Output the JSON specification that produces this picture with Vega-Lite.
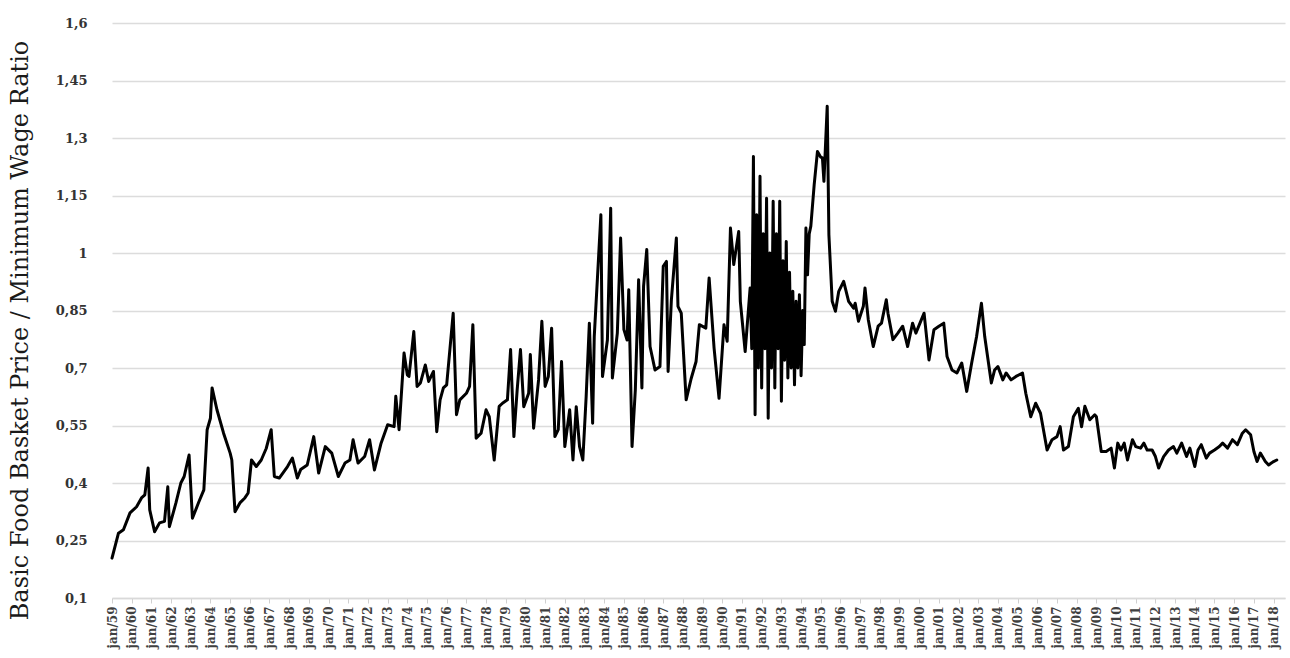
{
  "$schema": "https://vega.github.io/schema/vega-lite/v6.json",
  "width": 1173,
  "height": 575,
  "autosize": {"type": "none"},
  "padding": {"left": 112, "top": 23, "right": 5, "bottom": 60},
  "background": "white",
  "config": {"view": {"stroke": null}},
  "data": {"values": [
    {"date":"1959-01-01","ratio":0.204},{"date":"1959-05-01","ratio":0.269},{"date":"1959-08-01","ratio":0.278},{"date":"1959-12-01","ratio":0.322},
    {"date":"1960-04-01","ratio":0.338},{"date":"1960-07-01","ratio":0.361},{"date":"1960-09-01","ratio":0.369},{"date":"1960-11-01","ratio":0.439},{"date":"1960-12-01","ratio":0.33},
    {"date":"1961-03-01","ratio":0.273},{"date":"1961-06-01","ratio":0.296},{"date":"1961-09-01","ratio":0.30},{"date":"1961-11-01","ratio":0.39},{"date":"1961-12-01","ratio":0.286},
    {"date":"1962-04-01","ratio":0.348},{"date":"1962-07-01","ratio":0.40},{"date":"1962-09-01","ratio":0.417},{"date":"1962-12-01","ratio":0.473},
    {"date":"1963-02-01","ratio":0.308},{"date":"1963-06-01","ratio":0.351},{"date":"1963-09-01","ratio":0.382},{"date":"1963-11-01","ratio":0.539},
    {"date":"1964-01-01","ratio":0.569},{"date":"1964-02-01","ratio":0.648},{"date":"1964-05-01","ratio":0.591},{"date":"1964-09-01","ratio":0.530},
    {"date":"1965-01-01","ratio":0.478},{"date":"1965-02-01","ratio":0.46},{"date":"1965-04-01","ratio":0.325},{"date":"1965-07-01","ratio":0.348},{"date":"1965-10-01","ratio":0.361},{"date":"1965-12-01","ratio":0.374},
    {"date":"1966-02-01","ratio":0.46},{"date":"1966-05-01","ratio":0.443},{"date":"1966-08-01","ratio":0.46},{"date":"1966-11-01","ratio":0.49},
    {"date":"1967-02-01","ratio":0.539},{"date":"1967-04-01","ratio":0.417},{"date":"1967-07-01","ratio":0.413},{"date":"1967-12-01","ratio":0.443},
    {"date":"1968-03-01","ratio":0.465},{"date":"1968-06-01","ratio":0.413},{"date":"1968-08-01","ratio":0.435},{"date":"1968-12-01","ratio":0.447},
    {"date":"1969-04-01","ratio":0.521},{"date":"1969-07-01","ratio":0.426},{"date":"1969-11-01","ratio":0.495},
    {"date":"1970-03-01","ratio":0.478},{"date":"1970-07-01","ratio":0.417},{"date":"1970-11-01","ratio":0.452},
    {"date":"1971-02-01","ratio":0.46},{"date":"1971-04-01","ratio":0.513},{"date":"1971-07-01","ratio":0.452},{"date":"1971-11-01","ratio":0.469},
    {"date":"1972-02-01","ratio":0.513},{"date":"1972-05-01","ratio":0.434},{"date":"1972-09-01","ratio":0.504},
    {"date":"1973-01-01","ratio":0.552},{"date":"1973-05-01","ratio":0.547},{"date":"1973-06-01","ratio":0.626},{"date":"1973-08-01","ratio":0.539},{"date":"1973-11-01","ratio":0.739},
    {"date":"1974-01-01","ratio":0.682},{"date":"1974-02-01","ratio":0.678},{"date":"1974-05-01","ratio":0.795},{"date":"1974-07-01","ratio":0.652},{"date":"1974-09-01","ratio":0.661},{"date":"1974-12-01","ratio":0.708},
    {"date":"1975-02-01","ratio":0.665},{"date":"1975-05-01","ratio":0.691},{"date":"1975-07-01","ratio":0.534},{"date":"1975-09-01","ratio":0.617},{"date":"1975-11-01","ratio":0.648},
    {"date":"1976-01-01","ratio":0.656},{"date":"1976-05-01","ratio":0.843},{"date":"1976-07-01","ratio":0.578},{"date":"1976-09-01","ratio":0.617},
    {"date":"1977-01-01","ratio":0.634},{"date":"1977-03-01","ratio":0.652},{"date":"1977-05-01","ratio":0.813},{"date":"1977-07-01","ratio":0.517},{"date":"1977-10-01","ratio":0.530},
    {"date":"1978-01-01","ratio":0.591},{"date":"1978-03-01","ratio":0.573},{"date":"1978-06-01","ratio":0.46},{"date":"1978-09-01","ratio":0.60},{"date":"1978-11-01","ratio":0.608},
    {"date":"1979-02-01","ratio":0.617},{"date":"1979-04-01","ratio":0.748},{"date":"1979-06-01","ratio":0.521},{"date":"1979-08-01","ratio":0.643},{"date":"1979-10-01","ratio":0.748},{"date":"1979-12-01","ratio":0.599},
    {"date":"1980-03-01","ratio":0.634},{"date":"1980-04-01","ratio":0.735},{"date":"1980-06-01","ratio":0.543},{"date":"1980-09-01","ratio":0.669},{"date":"1980-11-01","ratio":0.822},
    {"date":"1981-01-01","ratio":0.652},{"date":"1981-03-01","ratio":0.678},{"date":"1981-05-01","ratio":0.804},{"date":"1981-07-01","ratio":0.521},{"date":"1981-09-01","ratio":0.539},{"date":"1981-11-01","ratio":0.717},
    {"date":"1982-01-01","ratio":0.495},{"date":"1982-04-01","ratio":0.591},{"date":"1982-06-01","ratio":0.46},{"date":"1982-08-01","ratio":0.599},{"date":"1982-10-01","ratio":0.495},{"date":"1982-12-01","ratio":0.46},
    {"date":"1983-02-01","ratio":0.626},{"date":"1983-04-01","ratio":0.817},{"date":"1983-06-01","ratio":0.556},{"date":"1983-07-01","ratio":0.782},{"date":"1983-11-01","ratio":1.10},{"date":"1983-12-01","ratio":0.678},
    {"date":"1984-03-01","ratio":0.773},{"date":"1984-05-01","ratio":1.117},{"date":"1984-06-01","ratio":0.674},{"date":"1984-09-01","ratio":0.791},{"date":"1984-11-01","ratio":1.039},
    {"date":"1985-01-01","ratio":0.80},{"date":"1985-03-01","ratio":0.773},{"date":"1985-04-01","ratio":0.904},{"date":"1985-06-01","ratio":0.495},{"date":"1985-08-01","ratio":0.643},{"date":"1985-10-01","ratio":0.93},{"date":"1985-12-01","ratio":0.648},
    {"date":"1986-01-01","ratio":0.913},{"date":"1986-03-01","ratio":1.009},{"date":"1986-05-01","ratio":0.756},{"date":"1986-08-01","ratio":0.695},{"date":"1986-11-01","ratio":0.704},
    {"date":"1987-01-01","ratio":0.965},{"date":"1987-03-01","ratio":0.978},{"date":"1987-04-01","ratio":0.691},{"date":"1987-06-01","ratio":0.878},{"date":"1987-09-01","ratio":1.039},{"date":"1987-10-01","ratio":0.861},{"date":"1987-12-01","ratio":0.843},
    {"date":"1988-03-01","ratio":0.617},{"date":"1988-06-01","ratio":0.672},{"date":"1988-09-01","ratio":0.717},{"date":"1988-11-01","ratio":0.813},
    {"date":"1989-03-01","ratio":0.804},{"date":"1989-05-01","ratio":0.935},{"date":"1989-08-01","ratio":0.752},{"date":"1989-11-01","ratio":0.621},
    {"date":"1990-02-01","ratio":0.813},{"date":"1990-04-01","ratio":0.770},{"date":"1990-06-01","ratio":1.065},{"date":"1990-08-01","ratio":0.97},{"date":"1990-11-01","ratio":1.056},{"date":"1990-12-01","ratio":0.874},
    {"date":"1991-03-01","ratio":0.743},{"date":"1991-06-01","ratio":0.909},{"date":"1991-07-01","ratio":0.75},{"date":"1991-08-01","ratio":1.252},{"date":"1991-09-01","ratio":0.578},{"date":"1991-10-01","ratio":1.10},{"date":"1991-11-01","ratio":0.70},{"date":"1991-12-01","ratio":1.20},
    {"date":"1992-01-01","ratio":0.648},{"date":"1992-02-01","ratio":1.05},{"date":"1992-03-01","ratio":0.75},{"date":"1992-04-01","ratio":1.143},{"date":"1992-05-01","ratio":0.569},{"date":"1992-06-01","ratio":1.00},{"date":"1992-07-01","ratio":0.70},{"date":"1992-08-01","ratio":1.135},{"date":"1992-09-01","ratio":0.648},{"date":"1992-10-01","ratio":1.05},{"date":"1992-11-01","ratio":0.75},{"date":"1992-12-01","ratio":1.135},
    {"date":"1993-01-01","ratio":0.613},{"date":"1993-02-01","ratio":0.98},{"date":"1993-03-01","ratio":0.72},{"date":"1993-04-01","ratio":1.03},{"date":"1993-05-01","ratio":0.674},{"date":"1993-06-01","ratio":0.95},{"date":"1993-07-01","ratio":0.70},{"date":"1993-08-01","ratio":0.90},{"date":"1993-09-01","ratio":0.656},{"date":"1993-10-01","ratio":0.874},{"date":"1993-11-01","ratio":0.70},{"date":"1993-12-01","ratio":0.891},
    {"date":"1994-01-01","ratio":0.68},{"date":"1994-02-01","ratio":0.85},{"date":"1994-03-01","ratio":0.761},{"date":"1994-04-01","ratio":1.065},{"date":"1994-05-01","ratio":0.943},{"date":"1994-06-01","ratio":1.05},{"date":"1994-07-01","ratio":1.07},{"date":"1994-09-01","ratio":1.178},{"date":"1994-11-01","ratio":1.265},
    {"date":"1995-01-01","ratio":1.25},{"date":"1995-02-01","ratio":1.248},{"date":"1995-03-01","ratio":1.187},{"date":"1995-05-01","ratio":1.383},{"date":"1995-06-01","ratio":1.048},{"date":"1995-08-01","ratio":0.874},{"date":"1995-10-01","ratio":0.848},{"date":"1995-12-01","ratio":0.90},
    {"date":"1996-03-01","ratio":0.926},{"date":"1996-06-01","ratio":0.874},{"date":"1996-09-01","ratio":0.856},{"date":"1996-10-01","ratio":0.869},{"date":"1996-12-01","ratio":0.822},
    {"date":"1997-03-01","ratio":0.861},{"date":"1997-04-01","ratio":0.909},{"date":"1997-06-01","ratio":0.826},{"date":"1997-09-01","ratio":0.756},{"date":"1997-12-01","ratio":0.809},
    {"date":"1998-02-01","ratio":0.817},{"date":"1998-05-01","ratio":0.878},{"date":"1998-06-01","ratio":0.843},{"date":"1998-09-01","ratio":0.774},{"date":"1998-12-01","ratio":0.791},
    {"date":"1999-03-01","ratio":0.809},{"date":"1999-06-01","ratio":0.756},{"date":"1999-09-01","ratio":0.817},{"date":"1999-11-01","ratio":0.791},
    {"date":"2000-04-01","ratio":0.843},{"date":"2000-07-01","ratio":0.721},{"date":"2000-10-01","ratio":0.80},
    {"date":"2001-01-01","ratio":0.809},{"date":"2001-04-01","ratio":0.817},{"date":"2001-06-01","ratio":0.73},{"date":"2001-09-01","ratio":0.695},{"date":"2001-12-01","ratio":0.687},
    {"date":"2002-03-01","ratio":0.713},{"date":"2002-06-01","ratio":0.639},{"date":"2002-09-01","ratio":0.713},{"date":"2002-12-01","ratio":0.782},
    {"date":"2003-03-01","ratio":0.869},{"date":"2003-05-01","ratio":0.782},{"date":"2003-09-01","ratio":0.661},{"date":"2003-11-01","ratio":0.695},
    {"date":"2004-01-01","ratio":0.704},{"date":"2004-04-01","ratio":0.669},{"date":"2004-06-01","ratio":0.687},{"date":"2004-09-01","ratio":0.669},{"date":"2004-12-01","ratio":0.678},
    {"date":"2005-04-01","ratio":0.687},{"date":"2005-06-01","ratio":0.634},{"date":"2005-09-01","ratio":0.573},{"date":"2005-12-01","ratio":0.608},
    {"date":"2006-03-01","ratio":0.582},{"date":"2006-07-01","ratio":0.486},{"date":"2006-10-01","ratio":0.513},
    {"date":"2007-01-01","ratio":0.521},{"date":"2007-03-01","ratio":0.547},{"date":"2007-05-01","ratio":0.486},{"date":"2007-08-01","ratio":0.495},{"date":"2007-11-01","ratio":0.573},
    {"date":"2008-02-01","ratio":0.595},{"date":"2008-04-01","ratio":0.547},{"date":"2008-06-01","ratio":0.60},{"date":"2008-09-01","ratio":0.565},{"date":"2008-12-01","ratio":0.578},
    {"date":"2009-01-01","ratio":0.573},{"date":"2009-04-01","ratio":0.482},{"date":"2009-07-01","ratio":0.482},{"date":"2009-10-01","ratio":0.491},{"date":"2009-12-01","ratio":0.439},
    {"date":"2010-02-01","ratio":0.504},{"date":"2010-04-01","ratio":0.486},{"date":"2010-06-01","ratio":0.504},{"date":"2010-08-01","ratio":0.46},{"date":"2010-11-01","ratio":0.513},
    {"date":"2011-01-01","ratio":0.495},{"date":"2011-04-01","ratio":0.491},{"date":"2011-06-01","ratio":0.504},{"date":"2011-08-01","ratio":0.486},{"date":"2011-11-01","ratio":0.486},
    {"date":"2012-01-01","ratio":0.469},{"date":"2012-03-01","ratio":0.439},{"date":"2012-06-01","ratio":0.469},{"date":"2012-09-01","ratio":0.486},{"date":"2012-12-01","ratio":0.495},
    {"date":"2013-02-01","ratio":0.478},{"date":"2013-05-01","ratio":0.504},{"date":"2013-08-01","ratio":0.469},{"date":"2013-10-01","ratio":0.491},
    {"date":"2014-01-01","ratio":0.443},{"date":"2014-03-01","ratio":0.486},{"date":"2014-05-01","ratio":0.50},{"date":"2014-08-01","ratio":0.465},{"date":"2014-10-01","ratio":0.478},
    {"date":"2015-01-01","ratio":0.486},{"date":"2015-04-01","ratio":0.495},{"date":"2015-06-01","ratio":0.504},{"date":"2015-09-01","ratio":0.491},{"date":"2015-12-01","ratio":0.513},
    {"date":"2016-03-01","ratio":0.50},{"date":"2016-06-01","ratio":0.530},{"date":"2016-08-01","ratio":0.539},{"date":"2016-11-01","ratio":0.526},
    {"date":"2017-01-01","ratio":0.482},{"date":"2017-03-01","ratio":0.456},{"date":"2017-05-01","ratio":0.478},{"date":"2017-08-01","ratio":0.456},{"date":"2017-10-01","ratio":0.447},
    {"date":"2018-01-01","ratio":0.456},{"date":"2018-03-01","ratio":0.46}
  ]},
  "mark": {"type": "line", "color": "#000000", "strokeWidth": 3, "strokeJoin": "round", "strokeCap": "round"},
  "encoding": {
    "x": {
      "field": "date",
      "type": "temporal",
      "scale": {"type": "utc", "domain": [{"year": 1959, "month": 1, "date": 1, "utc": true}, {"year": 2018, "month": 8, "date": 1, "utc": true}]},
      "axis": {
        "title": null,
        "grid": false,
        "tickCount": {"interval": "year", "step": 1},
        "labelExpr": "'jan/' + utcFormat(datum.value, '%y')",
        "labelAngle": -90,
        "labelAlign": "right",
        "labelBaseline": "middle",
        "labelFont": "DejaVu Serif",
        "labelFontWeight": "bold",
        "labelFontSize": 12,
        "labelColor": "#404040",
        "labelOverlap": false,
        "labelFlush": false,
        "labelPadding": 3,
        "tickColor": "#d0d0d0",
        "tickSize": 5,
        "domainColor": "#d9d9d9",
        "domainWidth": 1.5
      }
    },
    "y": {
      "field": "ratio",
      "type": "quantitative",
      "scale": {"domain": [0.1, 1.6], "zero": false, "nice": false},
      "axis": {
        "values": [0.1, 0.25, 0.4, 0.55, 0.7, 0.85, 1, 1.15, 1.3, 1.45, 1.6],
        "labelExpr": "replace(toString(round(datum.value*100)/100), '.', ',')",
        "labelFont": "DejaVu Serif",
        "labelFontWeight": "bold",
        "labelFontSize": 13,
        "labelColor": "#333333",
        "labelPadding": 25,
        "ticks": false,
        "domain": false,
        "grid": true,
        "gridColor": "#dcdcdc",
        "gridWidth": 1.5,
        "title": "Basic Food Basket Price / Minimum Wage Ratio",
        "titleFont": "DejaVu Serif",
        "titleFontSize": 24,
        "titleFontWeight": "normal",
        "titleColor": "#1a1a1a",
        "titleAngle": -90,
        "titleX": -92,
        "titleY": 307,
        "titleAlign": "center",
        "titleBaseline": "middle"
      }
    }
  }
}
